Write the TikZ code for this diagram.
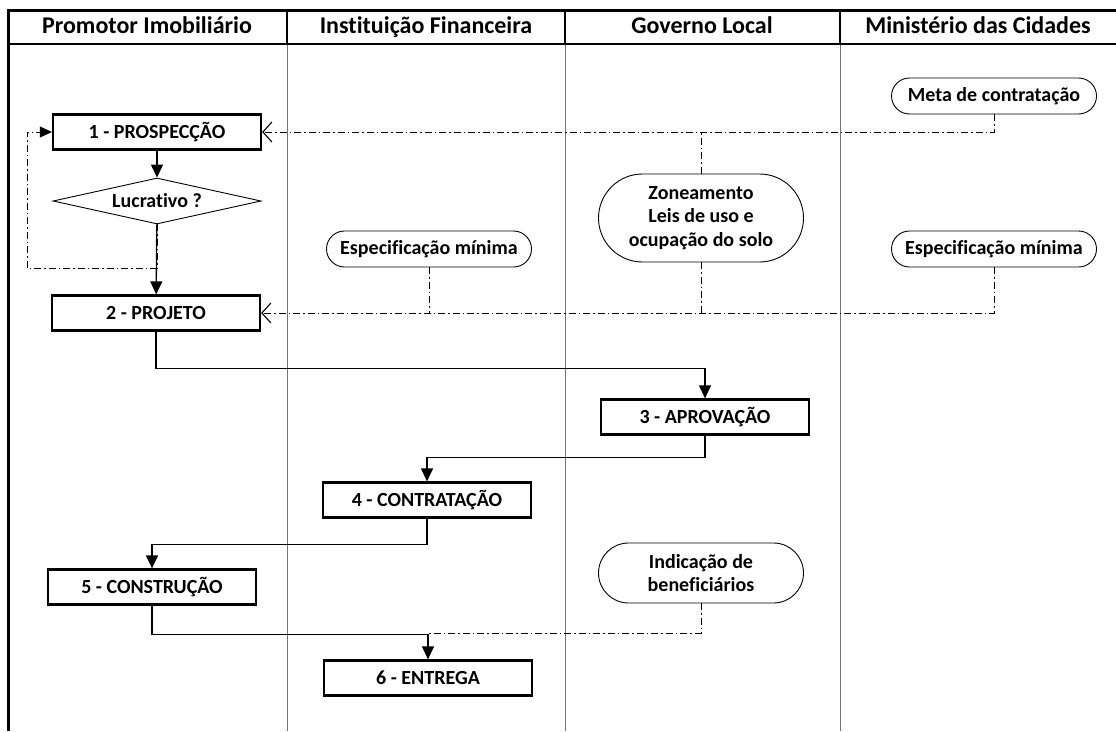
\documentclass[tikz,border=0pt]{standalone}
\usepackage{fontspec}
\setmainfont{Carlito}[RawFeature={-liga;-clig;-calt;-dlig}]
\usetikzlibrary{arrows.meta,shapes.geometric,shapes.misc,calc}
\begin{document}
\begin{tikzpicture}[x=1pt,y=-1pt,
  lane/.style={draw=black!55,line width=0.9pt},
  hdr/.style={font=\fontsize{24}{27}\selectfont\bfseries,anchor=center,text height=16pt,text depth=5pt,inner sep=0pt},
  proc/.style={draw,line width=2.3pt,minimum width=208,minimum height=35,inner sep=0pt,font=\fontsize{20}{23}\selectfont\bfseries},
  term/.style={draw,rounded rectangle,line width=0.9pt,minimum width=209,minimum height=36,inner sep=2pt,align=center,font=\fontsize{20}{23.5}\selectfont\bfseries},
  dec/.style={draw,diamond,aspect=4.5,line width=0.9pt,minimum width=208,minimum height=46,inner sep=0pt,font=\fontsize{20}{23}\selectfont\bfseries},
  flow/.style={line width=1.3pt,-{Triangle[length=13pt,width=12pt]}},
  dd/.style={line width=0.9pt,dash pattern=on 7pt off 3pt on 1.5pt off 3pt},
  barb/.style={-{Straight Barb[length=9pt,width=20pt,line width=1.1pt]}},
  tri/.style={-{Triangle[length=12pt,width=11pt]}}
]
\useasboundingbox (0,0) rectangle (1116,731);
% lanes
\draw[lane] (287,44) -- (287,731);
\draw[lane] (565,44) -- (565,731);
\draw[lane] (840,44) -- (840,731);
\draw[line width=1.4pt] (287,10) -- (287,44);
\draw[line width=1.4pt] (565,10) -- (565,44);
\draw[line width=1.4pt] (840,10) -- (840,44);
\draw[line width=2pt] (8,44) -- (1116,44);
\draw[line width=3pt] (8,731) -- (8,10) -- (1116,10);
\node[hdr] (h1) at (147,28) {Promotor Imobiliário};
\node[hdr] (h2) at (426,28) {Instituição Financeira};
\node[hdr] (h3) at (702,28) {Governo Local};
\node[hdr] (h4) at (978,28) {Ministério das Cidades};
% nodes
\node[proc] (p1) at (157,132) {1 - PROSPECÇÃO};
\node[dec] (dec) at (157,201) {Lucrativo ?};
\node[proc] (p2) at (156,313) {2 - PROJETO};
\node[proc] (p3) at (705,417) {3 - APROVAÇÃO};
\node[proc] (p4) at (427,500) {4 - CONTRATAÇÃO};
\node[proc] (p5) at (152,587) {5 - CONSTRUÇÃO};
\node[proc] (p6) at (428,678) {6 - ENTREGA};
\node[term] (meta) at (994,96) {Meta de contratação};
\node[term,minimum height=88] (zon) at (701,218) {Zoneamento\\Leis de uso e\\ocupação do solo};
\node[term] (espL) at (429,249) {Especificação mínima};
\node[term] (espR) at (994,249) {Especificação mínima};
\node[term,minimum height=60] (ind) at (701,573) {Indicação de\\beneficiários};
\coordinate (nb) at (27,268);
% flows
\draw[flow] (p1) -- (dec);
\draw[flow] (dec) -- (p2);
\draw[dd,tri] (dec.south) |- (nb) |- (p1.west);
\draw[dd,barb] (meta.south) |- (p1.east);
\draw[dd] (zon.north) -- (zon.north |- p1.east);
\draw[dd] (zon.south) -- (zon.south |- p2.east);
\draw[dd] (espL.south) -- (espL.south |- p2.east);
\draw[dd,barb] (espR.south) |- (p2.east);
\draw[flow] (p2.south) -- ++(0,37) -| (p3.north);
\draw[flow] (p3.south) -- ++(0,22) -| (p4.north);
\draw[flow] (p4.south) -- ++(0,26) -| (p5.north);
\draw[flow] (p5.south) -- ++(0,29) -| (p6.north);
\draw[dd] (ind.south) |- (p6.north |- 0,633);
\end{tikzpicture}
\end{document}
